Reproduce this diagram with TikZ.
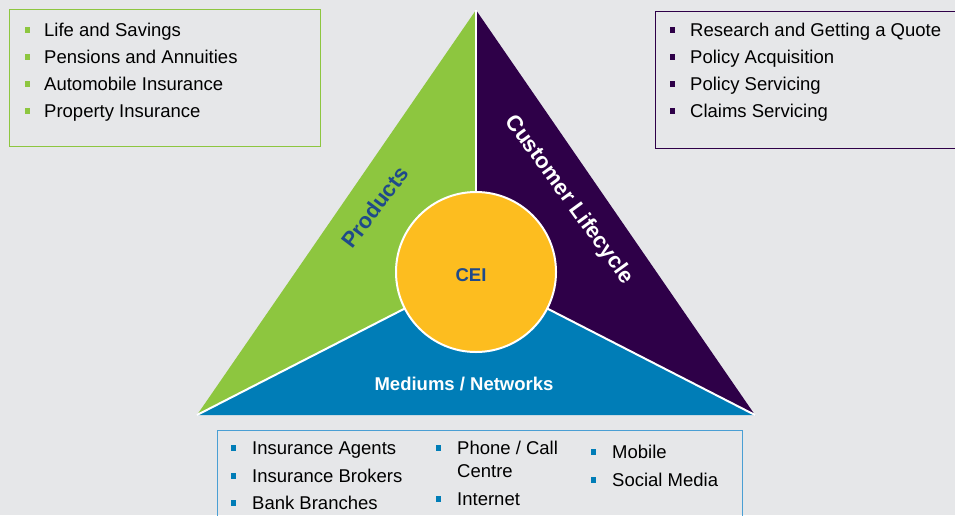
\documentclass[tikz,border=0pt]{standalone}
\usepackage{fontspec}
\setmainfont{Liberation Sans}
\definecolor{bggray}{HTML}{E6E7E9}
\definecolor{prodgreen}{HTML}{8DC63F}
\definecolor{lifepurple}{HTML}{2E0048}
\definecolor{netblue}{HTML}{007DB7}
\definecolor{ceiyellow}{HTML}{FDBD1F}
\definecolor{textblue}{HTML}{1F4A8A}
\definecolor{boxblue}{HTML}{4A9FD4}

\begin{document}
\begin{tikzpicture}[x=1pt,y=-1pt,
  every node/.style={inner sep=0pt,font=\fontsize{18.5}{23}\selectfont},
  item/.style={anchor=base west,align=left,text=black},
  sidetext/.style={font=\fontsize{22}{26}\selectfont\bfseries},
  divider/.style={draw=white,line width=2pt}]
  \useasboundingbox (0,0) rectangle (955,515);
  \fill[bggray] (0,0) rectangle (955,515);

  \coordinate (apex) at (476,10);
  \coordinate (bl) at (197,415);
  \coordinate (br) at (755,415);
  \coordinate (ctr) at (476,272);

  % three sectors
  \fill[prodgreen] (bl) -- (apex) -- (ctr) -- cycle;
  \fill[lifepurple] (apex) -- (br) -- (ctr) -- cycle;
  \fill[netblue] (bl) -- (br) -- (ctr) -- cycle;
  \foreach \c in {apex,bl,br}
    \draw[divider] (ctr) -- (\c);

  \node[circle,fill=ceiyellow,draw=white,line width=2pt,minimum size=160pt] (cei) at (ctr) {};
  \node[anchor=base,text=textblue,font=\fontsize{18.5}{22}\selectfont\bfseries] (ceitext) at (471,281) {CEI};

  \node[sidetext,text=textblue,rotate=53] (products) at (375,207) {Products};
  \node[sidetext,text=white,rotate=-54] (lifecycle) at (569,200) {Customer Lifecycle};
  \node[anchor=base,text=white,font=\fontsize{18.5}{22}\selectfont\bfseries] (mediums) at (464,390) {Mediums / Networks};

  % lists
  \draw[prodgreen] (9,9) rectangle (320,146);
  \foreach \txt [count=\i] in {Life and Savings,Pensions and Annuities,Automobile Insurance,Property Insurance} {
    \pgfmathsetmacro\yb{9+27*\i}
    \fill[prodgreen] (24.5,\yb-9) rectangle ++(5.5,5.5);
    \node[item] (prod\i) at (44,\yb) {\txt};
  }

  \draw[lifepurple] (655,11) rectangle (960,148);
  \foreach \txt [count=\i] in {Research and Getting a Quote,Policy Acquisition,Policy Servicing,Claims Servicing} {
    \pgfmathsetmacro\yb{9+27*\i}
    \fill[lifepurple] (669.5,\yb-9) rectangle ++(5.5,5.5);
    \node[item] (life\i) at (690,\yb) {\txt};
  }

  \draw[boxblue] (217,430) rectangle (742,520);
  \foreach \x/\yb/\txt/\nm in {252/454/Insurance Agents/agents,252/482/Insurance Brokers/brokers,
      252/509/Bank Branches/branches,457/505/Internet/internet,612/458/Mobile/mobile,612/486/Social Media/social} {
    \fill[netblue] (\x-21.5,\yb-9) rectangle ++(5.5,5.5);
    \node[item] (\nm) at (\x,\yb) {\txt};
  }
  \fill[netblue] (435.5,445) rectangle ++(5.5,5.5);
  \node[item] (phone) at (457,477) {Phone / Call\\Centre};
\end{tikzpicture}
\end{document}
